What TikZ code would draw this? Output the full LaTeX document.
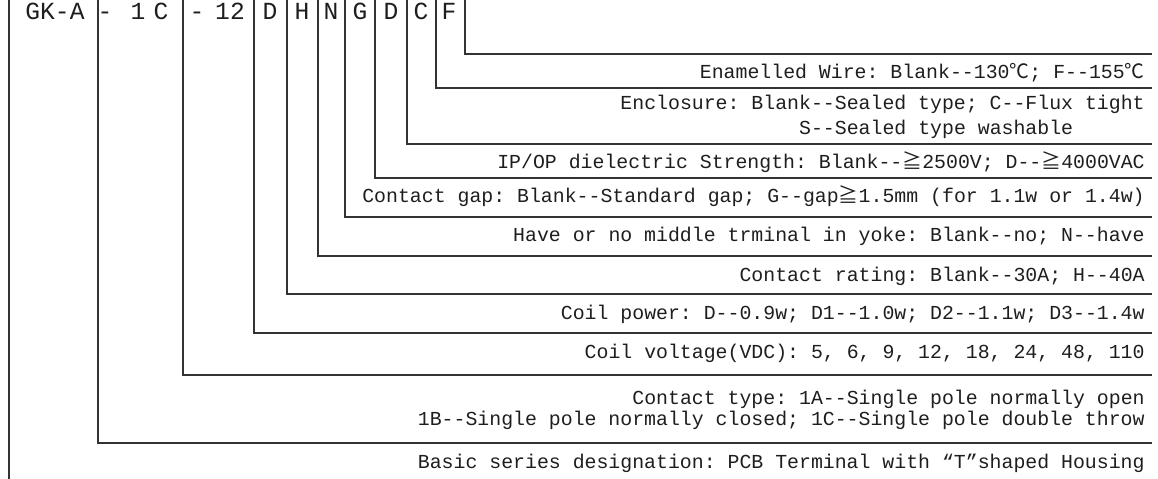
\documentclass[tikz,border=0pt]{standalone}
\usepackage{fontspec}
\setmonofont{Liberation Mono}
\newfontfamily\cjk{Noto Sans CJK SC}
\definecolor{leadgray}{HTML}{333333}
\definecolor{inkgray}{HTML}{1E1E1E}

\begin{document}
\begin{tikzpicture}[
    x=0.02cm, y=-0.02cm,
    line cap=butt,
    codechar/.style={font=\ttfamily\fontsize{14}{16}\selectfont, text=inkgray, inner sep=0pt, anchor=base},
    desc/.style={font=\ttfamily\fontsize{11.3}{12}\selectfont, text=inkgray, inner sep=0pt, align=right},
    lead/.style={draw=leadgray, line width=0.9pt}
]

% Canvas
\useasboundingbox (0,0) rectangle (1158,479);

% Part number, read left to right
\node[codechar] (cSeries) at (55,20) {GK-A};
\node[codechar] (cDashA)  at (105,20) {-};
\node[codechar] (cPole)   at (138,20) {1};
\node[codechar] (cType)   at (161,20) {C};
\node[codechar] (cDashB)  at (197,20) {-};
\node[codechar] (cVolt)   at (230,20) {12};
\node[codechar] (cPower)  at (270,20) {D};
\node[codechar] (cRating) at (302,20) {H};
\node[codechar] (cYoke)   at (331,20) {N};
\node[codechar] (cGap)    at (360,20) {G};
\node[codechar] (cDiel)   at (391,20) {D};
\node[codechar] (cEncl)   at (421,20) {C};
\node[codechar] (cWire)   at (449,20) {F};

% Bar tops and line ends
\coordinate (tLeft)   at (9,0);    \coordinate (bLeft)   at (9,479);
\coordinate (tSeries) at (98,0);   \coordinate (eSeries) at (1152,443);
\coordinate (tType)   at (183,0);  \coordinate (eType)   at (1152,375);
\coordinate (tVolt)   at (254,0);  \coordinate (eVolt)   at (1152,333);
\coordinate (tPower)  at (287,0);  \coordinate (ePower)  at (1152,294);
\coordinate (tRating) at (318,0);  \coordinate (eRating) at (1152,256);
\coordinate (tYoke)   at (345,0);  \coordinate (eYoke)   at (1152,217);
\coordinate (tGap)    at (375,0);  \coordinate (eGap)    at (1152,178);
\coordinate (tDiel)   at (407,0);  \coordinate (eDiel)   at (1152,144);
\coordinate (tEncl)   at (436,0);  \coordinate (eEncl)   at (1152,88);
\coordinate (tWire)   at (465,0);  \coordinate (eWire)   at (1152,54);

% Leader lines
\draw[lead] (tLeft) -- (bLeft);
\draw[lead] (tSeries) |- (eSeries);
\draw[lead] (tType) |- (eType);
\draw[lead] (tVolt) |- (eVolt);
\draw[lead] (tPower) |- (ePower);
\draw[lead] (tRating) |- (eRating);
\draw[lead] (tYoke) |- (eYoke);
\draw[lead] (tGap) |- (eGap);
\draw[lead] (tDiel) |- (eDiel);
\draw[lead] (tEncl) |- (eEncl);
\draw[lead] (tWire) |- (eWire);

% Descriptions
\node[desc, anchor=base east] (dWire) at (1145,79)
    {Enamelled Wire: Blank--130{\cjk ℃}; F--155{\cjk ℃}};
\node[desc, anchor=east] (dEncl) at (1145,117)
    {Enclosure: Blank--Sealed type; C--Flux tight\\[2.2pt]
     S--Sealed type washable\phantom{xxxxxx}};
\node[desc, anchor=base east] (dDiel) at (1145,169)
    {IP/OP dielectric Strength: Blank--{\cjk ≧}2500V; D--{\cjk ≧}4000VAC};
\node[desc, anchor=base east] (dGap) at (1145,203)
    {Contact gap: Blank--Standard gap; G--gap{\cjk ≧}1.5mm (for 1.1w or 1.4w)};
\node[desc, anchor=base east] (dYoke) at (1145,242)
    {Have or no middle trminal in yoke: Blank--no; N--have};
\node[desc, anchor=base east] (dRating) at (1145,281)
    {Contact rating: Blank--30A; H--40A};
\node[desc, anchor=base east] (dPower) at (1145,319)
    {Coil power: D--0.9w; D1--1.0w; D2--1.1w; D3--1.4w};
\node[desc, anchor=base east] (dVolt) at (1145,358)
    {Coil voltage(VDC): 5, 6, 9, 12, 18, 24, 48, 110};
\node[desc, anchor=east] (dType) at (1145,409.5)
    {Contact type: 1A--Single pole normally open\\
     1B--Single pole normally closed; 1C--Single pole double throw};
\node[desc, anchor=base east] (dSeries) at (1145,468)
    {Basic series designation: PCB Terminal with “T”shaped Housing};

\end{tikzpicture}
\end{document}
